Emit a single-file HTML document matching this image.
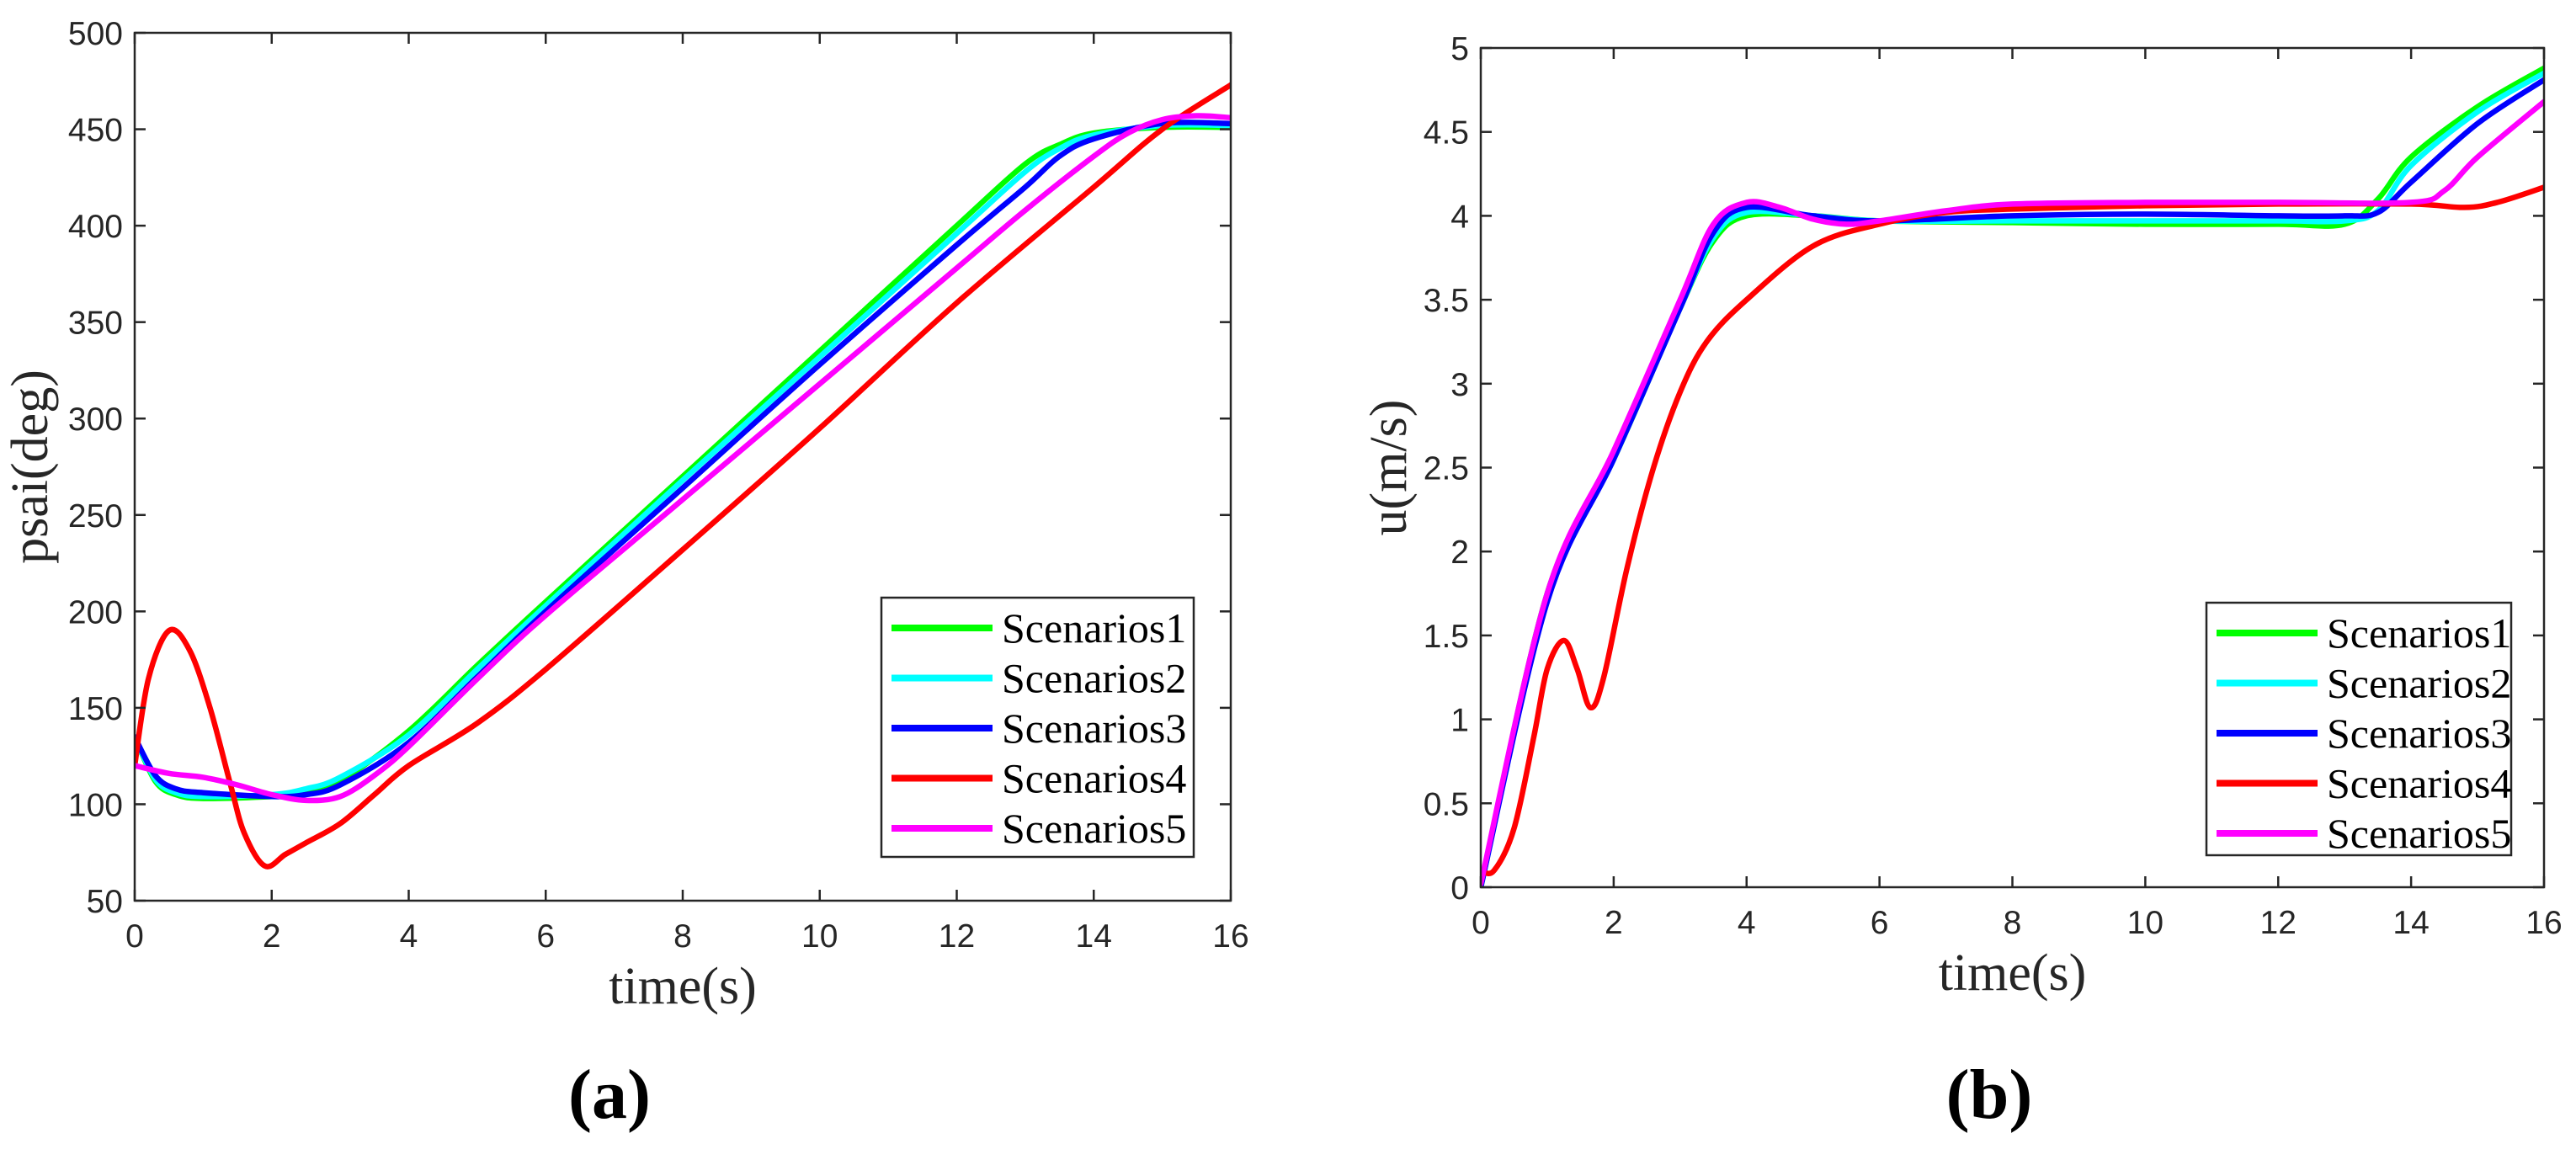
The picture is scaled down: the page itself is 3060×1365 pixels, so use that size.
<!DOCTYPE html>
<html><head><meta charset="utf-8"><style>
html,body{margin:0;padding:0;background:#fff;}
svg{display:block;}
</style></head><body>
<svg id="fig" width="3060" height="1365" viewBox="0 0 3060 1365" xmlns="http://www.w3.org/2000/svg"></svg>
<script>
const xTicks = [0,2,4,6,8,10,12,14,16];
const yTicksA = [50,100,150,200,250,300,350,400,450,500];
const yTicksB = [0,0.5,1,1.5,2,2.5,3,3.5,4,4.5,5];
const yTickLabelsB = ["0","0.5","1","1.5","2","2.5","3","3.5","4","4.5","5"];
const seriesNames = ["Scenarios1","Scenarios2","Scenarios3","Scenarios4","Scenarios5"];
const seriesColors = ["#00ff00","#00ffff","#0000ff","#ff0000","#ff00ff"];

// Panel (a): psai (deg)
const a1t = [0,0.3,0.6,1,2,2.5,3,4,5,6,8,10,12,13,13.5,14,15,16];
const a1v = [135,112,105,103,104,106,112,138,172,205,270,335,400,432,442,448,451,451];
const a2t = [0,0.3,0.6,1,2,2.5,3,4,5,6,8,10,12,13,13.5,14,15,16];
const a2v = [135,113,106,104,105,108,114,136,170,203,268,332,396,428,440,447,452,452];
const a3t = [0,0.3,0.6,1,2,2.5,3,4,5,6,8,10,12,13,13.5,14,15,16];
const a3v = [135,115,108,106,104,105,110,132,166,200,264,328,390,420,436,445,453,453];
const a4t = [0,0.2,0.5,0.8,1.1,1.4,1.6,1.9,2.2,2.5,3,3.5,4,5,6,8,10,12,14,15,16];
const a4v = [120,165,190,180,150,110,85,68,74,80,90,105,120,142,170,232,295,360,420,450,473];
const a5t = [0,0.5,1,1.5,2,2.5,3,3.5,4,5,6,8,10,12,13,14,14.5,15,15.5,16];
const a5v = [120,116,114,110,105,102,104,115,130,165,198,258,318,378,408,436,448,455,457,456];

// Panel (b): u (m/s)
const b1t = [0,1,2,3,3.5,4,5,6,8,10,12,13,13.5,14,15,16];
const b1v = [0,1.75,2.55,3.45,3.85,4.0,4.0,3.97,3.96,3.95,3.95,3.95,4.1,4.35,4.65,4.88];
const b2t = [0,1,2,3,3.5,4,5,6,8,10,12,13,13.5,14,15,16];
const b2v = [0,1.72,2.55,3.45,3.87,4.02,4.0,3.97,3.97,3.97,3.97,3.97,4.03,4.3,4.62,4.85];
const b3t = [0,1,2,3,3.5,4,5,6,8,10,12,13,13.5,14,15,16];
const b3v = [0,1.7,2.55,3.45,3.9,4.05,4.0,3.97,4.0,4.01,4.0,4.0,4.02,4.2,4.55,4.81];
const b4t = [0,0.2,0.5,0.8,1.0,1.25,1.45,1.65,1.85,2.2,2.6,3,3.4,4,5,6,7,8,10,12,14,14.8,15.3,16];
const b4v = [0.1,0.1,0.35,0.9,1.3,1.47,1.3,1.07,1.25,1.9,2.5,2.95,3.25,3.5,3.82,3.95,4.02,4.04,4.06,4.07,4.07,4.05,4.08,4.17];
const b5t = [0,1,2,3,3.5,4,4.5,5,5.5,6,7,8,10,12,14,14.5,15,16];
const b5v = [0.02,1.75,2.6,3.5,3.95,4.08,4.05,3.98,3.95,3.97,4.03,4.07,4.08,4.08,4.08,4.15,4.35,4.68];

const NS = "http://www.w3.org/2000/svg";
const svg = document.getElementById('fig');
function mk(tag, attrs, parent){ const e=document.createElementNS(NS,tag); for(const k in attrs) e.setAttribute(k,attrs[k]); (parent||svg).appendChild(e); return e; }
function smoothPath(pts){
  let d = "M"+pts[0][0].toFixed(1)+","+pts[0][1].toFixed(1);
  for(let i=0;i<pts.length-1;i++){
    const p0=pts[Math.max(i-1,0)], p1=pts[i], p2=pts[i+1], p3=pts[Math.min(i+2,pts.length-1)];
    const c1=[p1[0]+(p2[0]-p0[0])/6, p1[1]+(p2[1]-p0[1])/6];
    const c2=[p2[0]-(p3[0]-p1[0])/6, p2[1]-(p3[1]-p1[1])/6];
    d+=" C"+c1[0].toFixed(1)+","+c1[1].toFixed(1)+" "+c2[0].toFixed(1)+","+c2[1].toFixed(1)+" "+p2[0].toFixed(1)+","+p2[1].toFixed(1);
  }
  return d;
}
function panel(cfg){
  const g = mk('g',{});
  
  
  const {x0,x1,y0,y1,ymin,ymax} = cfg;
  const sx = t => x0 + (t-0)/(16-0)*(x1-x0);
  const sy = v => y1 - (v-ymin)/(ymax-ymin)*(y1-y0);
  const clip = mk('clipPath',{id:cfg.name+'-clip'},g);
  mk('rect',{x:x0,y:y0,width:x1-x0,height:y1-y0},clip);
  const plot = mk('g',{'clip-path':'url(#'+cfg.name+'-clip)'},g);
  
  
  cfg.series.forEach((s,i)=>{
    const pts = s[0].map((t,j)=>[sx(t), sy(s[1][j])]);
    const p = mk('path',{d:smoothPath(pts),fill:'none',stroke:seriesColors[i],'stroke-width':6.5,'stroke-linejoin':'round','stroke-linecap':'round'},plot);
    
    
  });
  const box = mk('rect',{x:x0,y:y0,width:x1-x0,height:y1-y0,fill:'none',stroke:'#262626','stroke-width':2.5},g);
  
  
  xTicks.forEach(t=>{
    const X=sx(t);
    mk('line',{x1:X,y1:y1,x2:X,y2:y1-13,stroke:'#262626','stroke-width':2.5},g);
    mk('line',{x1:X,y1:y0,x2:X,y2:y0+13,stroke:'#262626','stroke-width':2.5},g);
    const tx = mk('text',{x:X,y:y1+55,'text-anchor':'middle','font-family':'Liberation Sans, sans-serif','font-size':39,fill:'#262626'},g);
    tx.textContent = t;
    
    
  });
  cfg.yTicks.forEach((v,k)=>{
    const Y=sy(v);
    mk('line',{x1:x0,y1:Y,x2:x0+13,y2:Y,stroke:'#262626','stroke-width':2.5},g);
    mk('line',{x1:x1,y1:Y,x2:x1-13,y2:Y,stroke:'#262626','stroke-width':2.5},g);
    const ty = mk('text',{x:x0-14,y:Y+14,'text-anchor':'end','font-family':'Liberation Sans, sans-serif','font-size':39,fill:'#262626'},g);
    ty.textContent = cfg.yLabels ? cfg.yLabels[k] : v;
    
    
  });
  const xl = mk('text',{x:(x0+x1)/2,y:y1+122,'text-anchor':'middle','font-family':'Liberation Serif, serif','font-size':62,fill:'#262626'},g);
  xl.textContent='time(s)';
  
  
  const yl = mk('text',{x:0,y:0,'text-anchor':'middle','font-family':'Liberation Serif, serif','font-size':62,fill:'#262626',transform:'translate('+cfg.ylx+','+((y0+y1)/2)+') rotate(-90)'},g);
  yl.textContent=cfg.ylabel;
  
  
  const L = cfg.legend;
  const lg = mk('g',{},g);
  
  
  mk('rect',{x:L.x,y:L.y,width:L.w,height:L.h,fill:'#fff',stroke:'#262626','stroke-width':2.5},lg);
  seriesNames.forEach((n,i)=>{
    const Y = L.y + 36 + i*59.5;
    const e = mk('g',{},lg);
    
    
    mk('line',{x1:L.x+12,y1:Y,x2:L.x+132,y2:Y,stroke:seriesColors[i],'stroke-width':8},e);
    const t = mk('text',{x:L.x+143,y:Y+17,'font-family':'Liberation Serif, serif','font-size':50,fill:'#000'},e);
    t.textContent=n;
  });
  const cap = mk('text',{x:cfg.capx,y:1328,'text-anchor':'middle','font-family':'Liberation Serif, serif','font-size':84,'font-weight':'bold',fill:'#000'},g);
  cap.textContent = cfg.cap;
  
  
}
panel({name:'panel-a',x0:160,x1:1462,y0:39,y1:1070,ymin:50,ymax:500,yTicks:yTicksA,ylabel:'psai(deg)',ylx:56,
  series:[[a1t,a1v],[a2t,a2v],[a3t,a3v],[a4t,a4v],[a5t,a5v]],
  legend:{x:1047,y:710,w:371,h:308},cap:'(a)',capx:724});
panel({name:'panel-b',x0:1759,x1:3022,y0:57,y1:1054,ymin:0,ymax:5,yTicks:yTicksB,yLabels:yTickLabelsB,ylabel:'u(m/s)',ylx:1670,
  series:[[b1t,b1v],[b2t,b2v],[b3t,b3v],[b4t,b4v],[b5t,b5v]],
  legend:{x:2621,y:716,w:362,h:300},cap:'(b)',capx:2363});
</script>
</body></html>
